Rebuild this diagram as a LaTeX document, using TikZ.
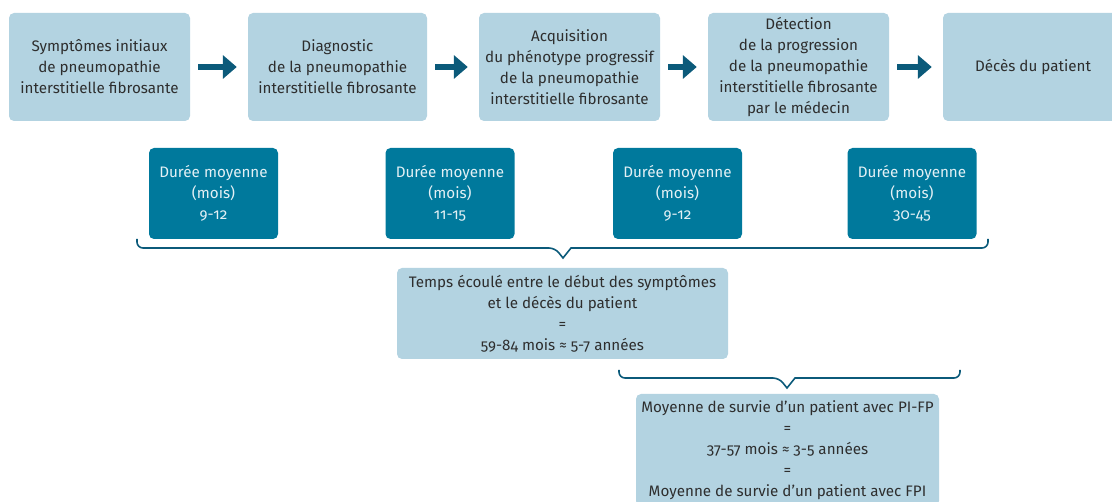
\documentclass[tikz,border=0pt]{standalone}
\usepackage{fontspec}
\setmainfont{Fira Sans}[Numbers=OldStyle,RawFeature=+onum]
\usetikzlibrary{arrows.meta}
\definecolor{lightbox}{HTML}{B3D3E1}
\definecolor{darkbox}{HTML}{00799C}
\definecolor{darktext}{HTML}{E3F0F5}
\definecolor{bodytext}{HTML}{2E2E2E}
\definecolor{navy}{HTML}{0B5A7A}
\tikzset{
  stage/.style={fill=lightbox, rounded corners=5pt, text=bodytext, align=center,
    minimum height=108pt, inner sep=0pt, font=\fontsize{15.2}{21}\selectfont},
  period/.style={fill=darkbox, rounded corners=5pt, text=darktext, align=center,
    minimum width=129pt, minimum height=91pt, inner sep=0pt, font=\fontsize{15.2}{21}\selectfont},
  summary/.style={fill=lightbox, rounded corners=5pt, text=bodytext, align=center,
    inner sep=0pt, font=\fontsize{15.2}{21}\selectfont},
  flow/.style={draw=navy, line width=5.5pt, -{Triangle[length=14pt,width=23pt]},
    shorten <=8pt, shorten >=11pt},
  brace/.style={draw=navy, line width=1.6pt, line join=miter}
}
\begin{document}
\begin{tikzpicture}[x=1pt,y=-1pt]
\useasboundingbox (0,0) rectangle (1112,502);
\clip (0,0) rectangle (1112,502);
% stages of the disease
\node[stage, minimum width=181pt] (s1) at (99.5,67) {Symptômes initiaux\\de pneumopathie\\interstitielle fibrosante};
\node[stage, minimum width=179pt] (s2) at (337.5,67) {Diagnostic\\de la pneumopathie\\interstitielle fibrosante};
\node[stage, minimum width=181pt] (s3) at (569.5,67) {Acquisition\\du phénotype progressif\\de la pneumopathie\\interstitielle fibrosante};
\node[stage, minimum width=181pt] (s4) at (798.5,67) {Détection\\de la progression\\de la pneumopathie\\interstitielle fibrosante\\par le médecin};
\node[stage, minimum width=180pt] (s5) at (1033,67) {Décès du patient};
\draw[flow] (s1) -- (s2);
\draw[flow] (s2) -- (s3);
\draw[flow] (s3) -- (s4);
\draw[flow] (s4) -- (s5);
% mean durations
\node[period] (d1) at (213.5,193.5) {Durée moyenne\\(mois)\\9-12};
\node[period] (d2) at (450,193.5) {Durée moyenne\\(mois)\\11-15};
\node[period] (d3) at (677.5,193.5) {Durée moyenne\\(mois)\\9-12};
\node[period] (d4) at (912,193.5) {Durée moyenne\\(mois)\\30-45};
% total time
\draw[brace] {[rounded corners=6pt] (137,239) -- (137,248) -- (555,248)} -- (563,258) -- (571,248)
  {[rounded corners=6pt] -- (988,248) -- (988,239)};
\node[summary, minimum width=331pt, minimum height=91pt] (t) at (562.5,313.5)
  {Temps écoulé entre le début des symptômes\\et le décès du patient\\=\\59-84 mois ≈ 5-7 années};
% survival
\draw[brace] {[rounded corners=6pt] (619,370) -- (619,378) -- (779,378)} -- (787,388) -- (795,378)
  {[rounded corners=6pt] -- (960,378) -- (960,370)};
\node[summary, minimum width=303pt, minimum height=112pt] (m) at (787.5,450)
  {Moyenne de survie d’un patient avec PI-FP\\=\\37-57 mois ≈ 3-5 années\\=\\Moyenne de survie d’un patient avec FPI};
\end{tikzpicture}
\end{document}
